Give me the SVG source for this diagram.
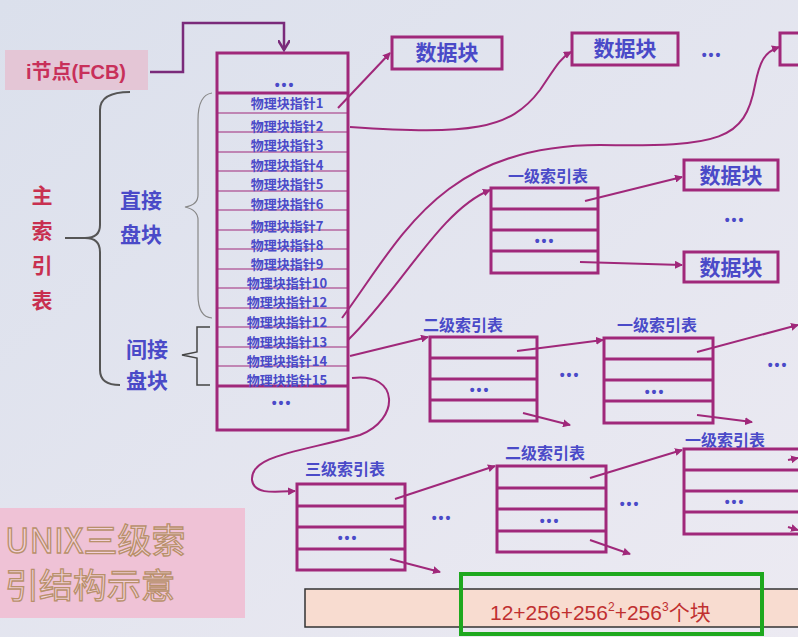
<svg xmlns="http://www.w3.org/2000/svg" width="798" height="637" viewBox="0 0 798 637">
<defs>
<linearGradient id="bg" x1="0" y1="0" x2="1" y2="1"><stop offset="0" stop-color="#dbe0ec"/><stop offset="1" stop-color="#eceaf2"/></linearGradient>
<marker id="ah" markerWidth="8" markerHeight="8" refX="7" refY="4" orient="auto" markerUnits="userSpaceOnUse"><path d="M0,0 L8,4 L0,8 z" fill="#a0287a"/></marker>
<marker id="ah2" markerWidth="12" markerHeight="12" refX="10" refY="6" orient="auto" markerUnits="userSpaceOnUse"><path d="M0,0 L10,6 L0,12" fill="none" stroke="#7a2a7a" stroke-width="2.5"/></marker>
</defs>
<style>
.box{fill:none;stroke:#a0287a;stroke-width:3}
.rl{stroke:#a0287a;stroke-width:1.2}
.rl2{stroke:#a0287a;stroke-width:3}
.c{fill:none;stroke:#a0287a;stroke-width:2;marker-end:url(#ah)}
.p{font-family:"Noto Sans CJK SC",serif;font-weight:bold;font-size:13px;fill:#4a4ac8;text-anchor:middle}
.lb{font-family:"Noto Sans CJK SC",serif;font-weight:bold;font-size:16px;fill:#4a4ac8;text-anchor:middle}
.db{font-family:"Noto Sans CJK SC",serif;font-weight:bold;font-size:21px;fill:#4a4ac8;text-anchor:middle}
.dots{font-family:"Liberation Sans",sans-serif;font-weight:bold;font-size:14px;fill:#4a4ac8;text-anchor:middle;letter-spacing:2px}
.br{fill:none;stroke:#555;stroke-width:2}
</style>
<rect width="798" height="637" fill="url(#bg)"/>

<g id="fcb">
<rect x="5" y="50" width="143" height="40" fill="#e4c6d6"/>
<text x="76" y="79" font-family="Liberation Sans,'Noto Sans CJK SC',sans-serif" font-weight="bold" font-size="20" fill="#c8305a" text-anchor="middle">i节点(FCB)</text>
</g>
<g id="mainlabel" font-family="'Noto Sans CJK SC',serif" font-weight="bold" font-size="21" fill="#c83050" text-anchor="middle">
<text x="42" y="203">主</text><text x="42" y="238">索</text><text x="42" y="273">引</text><text x="42" y="308">表</text>
</g>
<g id="braces">
<path class="br" d="M130,92 Q100,92 100,110 L100,225 Q100,238 85,238 L65,238 M85,238 Q100,238 100,252 L100,370 Q100,385 120,385"/>
<path fill="none" stroke="#888" stroke-width="1.2" d="M212,93 Q198,95 198,120 L198,195 Q198,205 185,207 Q198,210 198,220 L198,295 Q198,317 212,318"/>
<path fill="none" stroke="#444" stroke-width="1.5" d="M210,327 L197,327 L197,352 L182,355 L197,358 L197,385 L210,385"/>
<g font-family="'Noto Sans CJK SC',serif" font-weight="bold" font-size="21" fill="#4a4ac8" text-anchor="middle">
<text x="141" y="208">直接</text><text x="141" y="242">盘块</text>
<text x="147" y="357">间接</text><text x="147" y="388">盘块</text>
</g>
</g>

<g id="inode">
<rect class="box" x="217" y="53" width="131" height="377"/>
<line class="rl2" x1="217" y1="93" x2="348" y2="93"/>
<line class="rl2" x1="217" y1="386" x2="348" y2="386"/>
<g>
<line class="rl" x1="217" y1="113" x2="348" y2="113"/><line class="rl" x1="217" y1="132" x2="348" y2="132"/>
<line class="rl" x1="217" y1="152" x2="348" y2="152"/><line class="rl" x1="217" y1="171" x2="348" y2="171"/>
<line class="rl" x1="217" y1="191" x2="348" y2="191"/><line class="rl" x1="217" y1="210" x2="348" y2="210"/>
<line class="rl" x1="217" y1="230" x2="348" y2="230"/><line class="rl" x1="217" y1="249" x2="348" y2="249"/>
<line class="rl" x1="217" y1="269" x2="348" y2="269"/><line class="rl" x1="217" y1="288" x2="348" y2="288"/>
<line class="rl" x1="217" y1="308" x2="348" y2="308"/><line class="rl" x1="217" y1="327" x2="348" y2="327"/>
<line class="rl" x1="217" y1="347" x2="348" y2="347"/><line class="rl" x1="217" y1="366" x2="348" y2="366"/>
</g>
<text class="dots" x="285" y="90">•••</text>
<text class="p" x="287" y="108">物理块指针1</text><text class="p" x="287" y="131">物理块指针2</text>
<text class="p" x="287" y="150">物理块指针3</text><text class="p" x="287" y="170">物理块指针4</text>
<text class="p" x="287" y="189">物理块指针5</text><text class="p" x="287" y="209">物理块指针6</text>
<text class="p" x="287" y="231">物理块指针7</text><text class="p" x="287" y="250">物理块指针8</text>
<text class="p" x="287" y="269">物理块指针9</text><text class="p" x="287" y="288">物理块指针10</text>
<text class="p" x="287" y="307">物理块指针12</text><text class="p" x="287" y="327">物理块指针12</text>
<text class="p" x="287" y="347">物理块指针13</text><text class="p" x="287" y="366">物理块指针14</text>
<text class="p" x="287" y="385">物理块指针15</text>
<text class="dots" x="282" y="408">•••</text>
</g>

<g id="data">
<rect class="box" x="392" y="37" width="110" height="32"/><text class="db" x="447" y="60">数据块</text>
<rect class="box" x="572" y="33" width="106" height="32"/><text class="db" x="625" y="56">数据块</text>
<text class="dots" x="712" y="60">•••</text>
<rect class="box" x="780" y="33" width="30" height="32"/>
<rect class="box" x="684" y="160" width="94" height="30"/><text class="db" x="731" y="183">数据块</text>
<text class="dots" x="735" y="225">•••</text>
<rect class="box" x="684" y="252" width="94" height="30"/><text class="db" x="731" y="275">数据块</text>
</g>

<g id="l1a">
<text class="lb" x="548" y="182">一级索引表</text>
<rect class="box" x="491" y="188" width="107" height="85"/>
<line class="rl2" x1="491" y1="209" x2="598" y2="209"/><line class="rl2" x1="491" y1="230" x2="598" y2="230"/><line class="rl2" x1="491" y1="251" x2="598" y2="251"/>
<text class="dots" x="545" y="246">•••</text>
</g>
<g id="l2a">
<text class="lb" x="463" y="331">二级索引表</text>
<rect class="box" x="430" y="337" width="107" height="84"/>
<line class="rl2" x1="430" y1="358" x2="537" y2="358"/><line class="rl2" x1="430" y1="379" x2="537" y2="379"/><line class="rl2" x1="430" y1="400" x2="537" y2="400"/>
<text class="dots" x="480" y="395">•••</text>
<text class="dots" x="570" y="380">•••</text>
</g>
<g id="l1b">
<text class="lb" x="657" y="331">一级索引表</text>
<rect class="box" x="604" y="338" width="109" height="85"/>
<line class="rl2" x1="604" y1="359" x2="713" y2="359"/><line class="rl2" x1="604" y1="380" x2="713" y2="380"/><line class="rl2" x1="604" y1="401" x2="713" y2="401"/>
<text class="dots" x="655" y="397">•••</text>
<text class="dots" x="778" y="370">•••</text>
</g>
<g id="l3">
<text class="lb" x="345" y="475">三级索引表</text>
<rect class="box" x="297" y="484" width="108" height="86"/>
<line class="rl2" x1="297" y1="506" x2="405" y2="506"/><line class="rl2" x1="297" y1="527" x2="405" y2="527"/><line class="rl2" x1="297" y1="549" x2="405" y2="549"/>
<text class="dots" x="348" y="543">•••</text>
<text class="dots" x="442" y="523">•••</text>
</g>
<g id="l2b">
<text class="lb" x="545" y="459">二级索引表</text>
<rect class="box" x="497" y="466" width="109" height="86"/>
<line class="rl2" x1="497" y1="488" x2="606" y2="488"/><line class="rl2" x1="497" y1="509" x2="606" y2="509"/><line class="rl2" x1="497" y1="531" x2="606" y2="531"/>
<text class="dots" x="550" y="526">•••</text>
<text class="dots" x="630" y="509">•••</text>
</g>
<g id="l1c">
<text class="lb" x="725" y="446">一级索引表</text>
<rect class="box" x="684" y="449" width="120" height="85"/>
<line class="rl2" x1="684" y1="470" x2="798" y2="470"/><line class="rl2" x1="684" y1="491" x2="798" y2="491"/><line class="rl2" x1="684" y1="512" x2="798" y2="512"/>
<text class="dots" x="735" y="507">•••</text>
</g>

<g id="connectors">
<path d="M150,72 L183,72 L183,23 L284,23 L284,50" fill="none" stroke="#7a2a7a" stroke-width="2.5" marker-end="url(#ah2)"/>
<path class="c" d="M338,108 L390,53"/>
<path class="c" d="M350,127 C470,135 510,130 540,90 C555,68 560,58 571,52"/>
<path class="c" d="M342,318 C400,240 440,145 600,145 C720,147 745,140 755,85 C760,60 765,52 779,47"/>
<path class="c" d="M348,340 C400,290 440,210 490,190"/>
<path class="c" d="M350,356 L428,337"/>
<path class="c" d="M352,378 C400,372 400,420 360,435 C300,452 250,455 252,480 C254,495 275,492 295,491"/>
<path class="c" d="M585,201 L682,177"/>
<path class="c" d="M580,262 L682,265"/>
<path class="c" d="M517,351 L603,340"/>
<path class="c" d="M523,413 L570,425"/>
<path class="c" d="M697,352 L798,325"/>
<path class="c" d="M697,415 L752,422"/>
<path class="c" d="M395,499 L495,466"/>
<path class="c" d="M390,559 L440,572"/>
<path class="c" d="M590,478 L682,450"/>
<path class="c" d="M590,540 L630,554"/>
<path class="c" d="M788,460 L798,458"/>
<path class="c" d="M788,527 L798,530"/>
</g>

<g id="footer">
<rect x="0" y="508" width="245" height="110" fill="#efc2d6"/>
<g font-family="'Noto Sans CJK SC',sans-serif" font-size="34" fill="#f3d0dc" stroke="#b8906a" stroke-width="1.3">
<text x="5" y="553">UNIX三级索</text><text x="5" y="598">引结构示意</text>
</g>
<rect x="305" y="589" width="500" height="38" fill="#f8dcd0" stroke="#333" stroke-width="1.5"/>
<rect x="461" y="574" width="301" height="60" fill="none" stroke="#1ea81e" stroke-width="4"/>
<text x="490" y="620" font-family="'Liberation Sans','Noto Sans CJK SC',sans-serif" font-size="21" fill="#c03030">12+256+256<tspan font-size="12" dy="-9">2</tspan><tspan dy="9">+256</tspan><tspan font-size="12" dy="-9">3</tspan><tspan dy="9">个块</tspan></text>
</g>
</svg>
